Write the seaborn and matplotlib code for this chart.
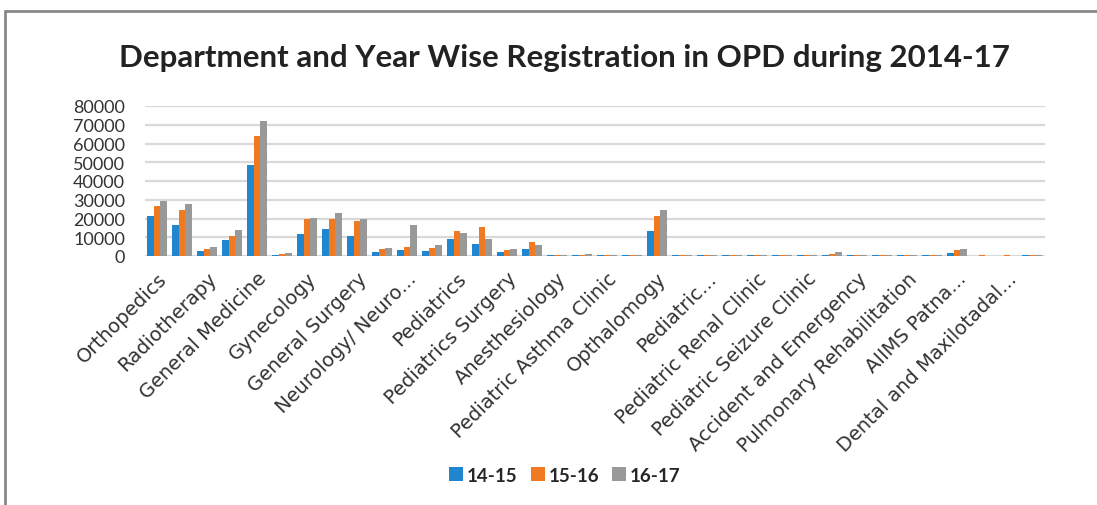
import pandas as pd
import seaborn as sns
import matplotlib.pyplot as plt
from matplotlib.patches import Rectangle, Patch

sns.set_theme(style="white")
plt.rcParams['font.family'] = ['Lato', 'DejaVu Sans']

# labels shown on the axis (every other department)
shown_labels = ["Orthopedics", "Radiotherapy", "General Medicine", "Gynecology",
                "General Surgery", "Neurology/ Neuro...", "Pediatrics", "Pediatrics Surgery",
                "Anesthesiology", "Pediatric Asthma Clinic", "Opthalomogy", "Pediatric...",
                "Pediatric Renal Clinic", "Pediatric Seizure Clinic", "Accident and Emergency",
                "Pulmonary Rehabilitation", "AIIMS Patna...", "Dental and Maxilotadal..."]
years = ["14-15", "15-16", "16-17"]

reg_1415 = [21500, 16500, 2500, 8500, 48500, 800, 12000, 14500, 10500, 2000,
            3000, 2500, 9000, 6500, 2000, 4000, 300, 400, 300, 300,
            13500, 300, 300, 300, 300, 300, 400, 800, 300, 300,
            300, 300, 1500, 200, 200, 300]
reg_1516 = [26500, 24500, 4000, 10500, 64000, 1200, 20000, 20000, 18500, 3500,
            5000, 4500, 13500, 15500, 3000, 7500, 400, 700, 400, 400,
            21500, 300, 300, 300, 300, 300, 600, 1200, 300, 300,
            300, 300, 3000, 300, 300, 400]
reg_1617 = [29500, 28000, 5000, 14000, 72000, 1800, 20500, 23000, 20000, 4500,
            16500, 6000, 12500, 9000, 3500, 6000, 500, 900, 500, 500,
            24500, 300, 300, 300, 300, 300, 800, 2000, 300, 300,
            300, 300, 3500, 200, 200, 600]

colors = ["#1f86cf", "#ef7a22", "#999999"]

# internal keys; odd departments carry no visible label in the source chart
dept_keys = []
tick_labels = []
for i in range(len(reg_1415)):
    if i % 2 == 0:
        dept_keys.append(shown_labels[i // 2])
        tick_labels.append(shown_labels[i // 2])
    else:
        dept_keys.append(f"dept_{i}")
        tick_labels.append("")

df = pd.DataFrame({"Department": dept_keys * 3,
                   "Year": [y for y in years for _ in dept_keys],
                   "Registration": reg_1415 + reg_1516 + reg_1617})

fig = plt.figure(figsize=(10.97, 5.06), dpi=100)
ax = fig.add_axes([144.5 / 1097, 1 - 257 / 506, 900 / 1097, 150 / 506])

sns.barplot(data=df, x="Department", y="Registration", hue="Year", order=dept_keys,
            hue_order=years, palette=colors, width=0.78, gap=0, linewidth=0,
            saturation=1, legend=False, ax=ax)

ax.set_ylim(0, 80000)
ax.set_xlim(-0.5, len(dept_keys) - 0.5)
ax.set_yticks(range(0, 80001, 10000))
ax.yaxis.grid(True, color="#d9d9d9", linewidth=1.6)
ax.set_axisbelow(True)
for s in ax.spines.values():
    s.set_visible(False)
ax.set_xlabel("")
ax.set_ylabel("")
ax.tick_params(axis="y", labelsize=13, colors="#333333", pad=14, length=0)
ax.set_xticks(range(len(dept_keys)))
ax.set_xticklabels(tick_labels, rotation=45, ha="right", rotation_mode="anchor",
                   fontsize=14, color="#333333", family=["DejaVu Sans"])
ax.tick_params(axis="x", pad=9, length=0)

fig.text(0.515, 0.885, "Department and Year Wise Registration in OPD during 2014-17",
         ha="center", va="center", fontsize=22.5, fontweight="bold", color="#222222")

handles = [Patch(facecolor=c, edgecolor="none") for c in colors]
fig.legend(handles, years, loc="center", bbox_to_anchor=(0.515, 0.059), ncol=3,
           frameon=False, handlelength=0.75, handleheight=0.75, handletextpad=0.2,
           columnspacing=0.7, prop={"size": 13.5, "weight": "bold"})

# outer chart frame, cropped at right and bottom
fig.patches.append(Rectangle((5 / 1097, -0.1), 1.2, 1 - 12 / 506 + 0.1,
                             transform=fig.transFigure, fill=False,
                             edgecolor="#888888", linewidth=2))

fig.savefig("out.png", dpi=100)
